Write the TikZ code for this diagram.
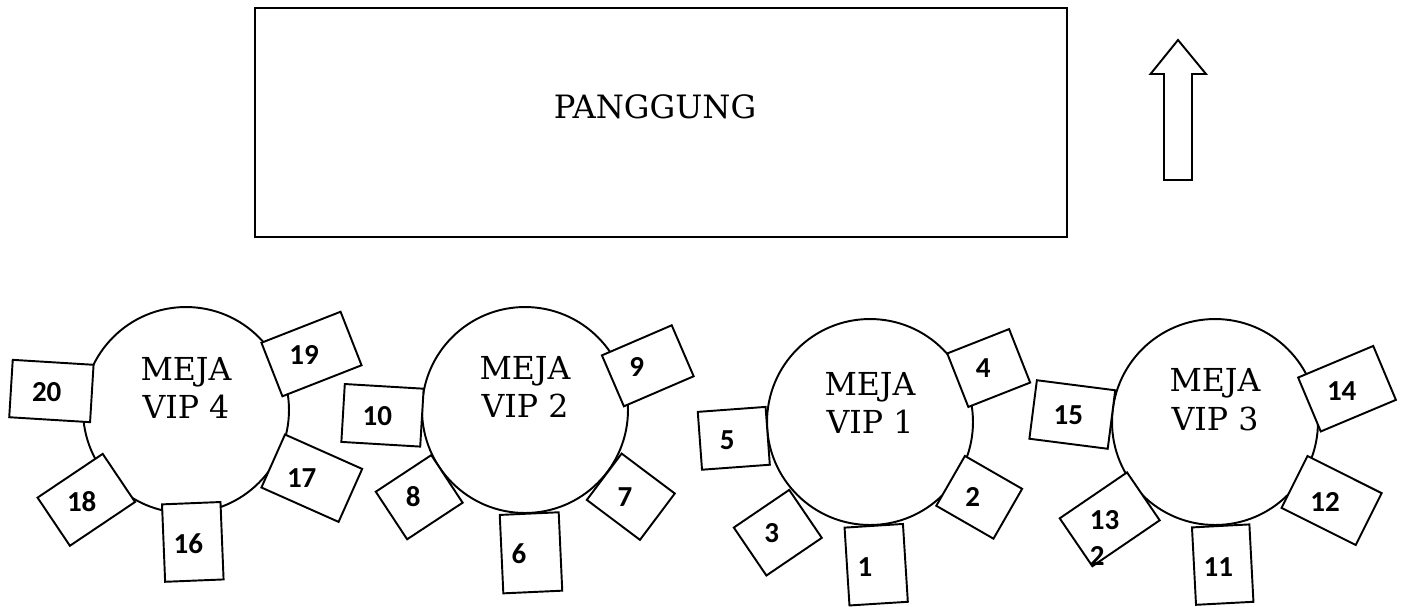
\documentclass[tikz,border=0pt]{standalone}
\usepackage{fontspec}
\setmainfont{DejaVu Serif}
\newfontfamily\seatfont{Carlito}
\usetikzlibrary{positioning}

\begin{document}
\begin{tikzpicture}[
    x=0.02cm, y=-0.02cm,
    line width=1.1pt,
    meja/.style={draw, circle, minimum size=4.12cm, inner sep=0pt, fill=white},
    mejatext/.style={align=center, inner sep=0pt, font=\fontsize{18}{22}\selectfont},
    kursi/.style 2 args={draw, fill=white, minimum width=#1, minimum height=#2, inner sep=0pt},
    nomor/.style={inner sep=0pt, font=\seatfont\bfseries\fontsize{16.5}{20}\selectfont},
  ]
    \useasboundingbox (0,0) rectangle (1406,606);

    % ===== Stage and direction arrow =====
    \node[draw, minimum width=16.24cm, minimum height=4.58cm, inner sep=0pt] (stage) at (661,122.5) {};
    \node[font=\fontsize{18.3}{22}\selectfont] (panggung) at (655,107) {PANGGUNG};
    \draw (1178,40) -- (1206,74) -- (1192,74) -- (1192,180) -- (1164,180)
      -- (1164,74) -- (1150.5,74) -- cycle;

    % ===== Tables =====
    \node[meja] (vip4) at (186,410) {};
    \node[meja] (vip2) at (525,410) {};
    \node[meja] (vip1) at (870,422) {};
    \node[meja] (vip3) at (1215,422) {};

    \node[mejatext] (lbl4) at (186,388) {MEJA\\VIP 4};
    \node[mejatext] (lbl2) at (525,387) {MEJA\\VIP 2};
    \node[mejatext] (lbl1) at (870,403) {MEJA\\VIP 1};
    \node[mejatext] (lbl3) at (1215,400) {MEJA\\VIP 3};

    % ===== Chairs round VIP 4 =====
    \node[kursi={1.62cm}{1.15cm}, rotate=-3.5] (k20) at (51.4,391) {};
    \node[kursi={1.70cm}{1.15cm}, rotate=21.4] (k19) at (311.5,354) {};
    \node[kursi={1.69cm}{1.16cm}, rotate=-24] (k17) at (311.8,478.2) {};
    \node[kursi={1.17cm}{1.55cm}, rotate=2.3] (k16) at (192.8,541.9) {};
    \node[kursi={1.57cm}{1.16cm}, rotate=33.9] (k18) at (86.3,499.8) {};

    % ===== Chairs round VIP 2 =====
    \node[kursi={1.58cm}{1.16cm}, rotate=-3.4] (k10) at (382.5,415.3) {};
    \node[kursi={1.52cm}{1.11cm}, rotate=23.3] (k9) at (647.8,365.8) {};
    \node[kursi={1.33cm}{1.14cm}, rotate=33.4] (k8) at (419.2,497.2) {};
    \node[kursi={1.18cm}{1.57cm}, rotate=2.6] (k6) at (531,552.8) {};
    \node[kursi={1.33cm}{1.16cm}, rotate=-36.9] (k7) at (630.8,496.7) {};

    % ===== Chairs round VIP 1 =====
    \node[kursi={1.33cm}{1.15cm}, rotate=21.5] (k4) at (988.7,368) {};
    \node[kursi={1.36cm}{1.16cm}, rotate=4.2] (k5) at (733.8,438.3) {};
    \node[kursi={1.34cm}{1.16cm}, rotate=34.2] (k3) at (777.8,532.7) {};
    \node[kursi={1.17cm}{1.56cm}, rotate=3.6] (k1) at (876.2,564.7) {};
    \node[kursi={1.32cm}{1.15cm}, rotate=-29.9] (k2) at (979.2,497.3) {};

    % ===== Chairs round VIP 3 =====
    \node[kursi={1.58cm}{1.18cm}, rotate=-7.3] (k15) at (1072.3,414.5) {};
    \node[kursi={1.63cm}{1.17cm}, rotate=22.8] (k14) at (1347,388.7) {};
    \node[kursi={1.66cm}{1.16cm}, rotate=-26.6] (k12) at (1331.6,500.5) {};
    \node[kursi={1.15cm}{1.55cm}, rotate=3] (k11) at (1222.7,564.6) {};
    \node[kursi={1.63cm}{1.16cm}, rotate=34.3] (k13) at (1109.7,519.3) {};

    % ===== Seat numbers =====
    \node[nomor] (n20) at (46.7,391.7) {20};
    \node[nomor] (n19) at (304,355) {19};
    \node[nomor] (n17) at (301.7,478) {17};
    \node[nomor] (n16) at (188.3,543.3) {16};
    \node[nomor] (n18) at (81.7,501.7) {18};
    \node[nomor] (n10) at (377.3,416) {10};
    \node[nomor] (n9) at (636.7,366.7) {9};
    \node[nomor] (n8) at (413.3,496.7) {8};
    \node[nomor] (n6) at (519,553.3) {6};
    \node[nomor] (n7) at (625,496.7) {7};
    \node[nomor] (n4) at (983.3,368.3) {4};
    \node[nomor] (n5) at (727.3,440) {5};
    \node[nomor] (n3) at (771.7,533.3) {3};
    \node[nomor] (n1) at (865,566.7) {1};
    \node[nomor] (n2) at (972.7,497.3) {2};
    \node[nomor] (n15) at (1068.3,415) {15};
    \node[nomor] (n14) at (1341.7,390.7) {14};
    \node[nomor] (n12) at (1325,501.7) {12};
    \node[nomor] (n11) at (1218.3,566.7) {11};
    \node[nomor, align=left, anchor=west] (n13) at (1089,538) {13\\2};

  \end{tikzpicture}
\end{document}
